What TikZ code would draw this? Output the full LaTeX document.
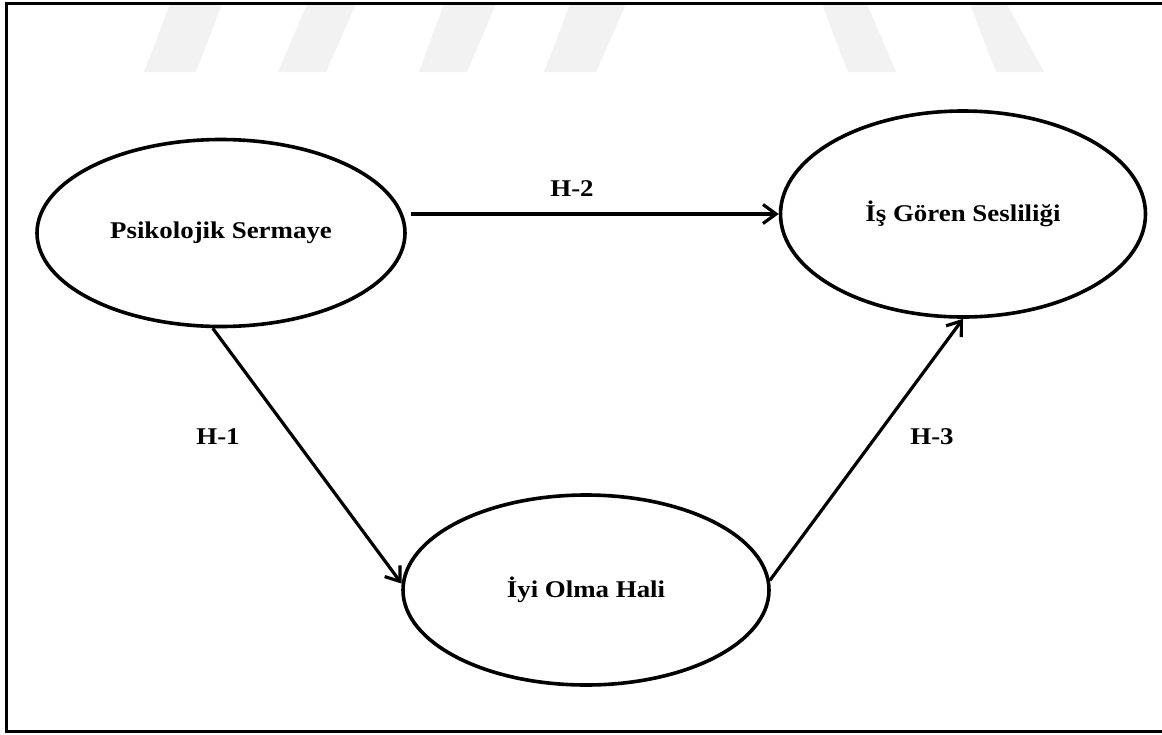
\documentclass[tikz,border=0pt]{standalone}
\usepackage{fontspec}
\usepackage{graphicx}
\setmainfont{Liberation Serif}
\usetikzlibrary{arrows.meta,calc,shapes.geometric}

% bold serif text, set a little wider than the font's natural width
\newcommand\widetext[1]{\scalebox{1.12}[1]{#1}}

\begin{document}
\begin{tikzpicture}[x=1pt,y=-1pt,
  construct/.style={ellipse, draw, line width=3.6pt, inner sep=0pt,
    font=\fontsize{24}{28}\selectfont\bfseries},
  hyp/.style={font=\fontsize{24}{28}\selectfont\bfseries},
  link/.style={line width=3.2pt,
    -{Straight Barb[length=13pt,width=19pt,line width=3.2pt]}},
  stripe/.style={draw=none, fill=black!5}
]
\useasboundingbox (0,0) rectangle (1162,734);

% faint stripes along the top edge
\fill[stripe] (170,4) -- (222,4) -- (196,72) -- (144,72) -- cycle;
\fill[stripe] (307,4) -- (356,4) -- (326,72) -- (278,72) -- cycle;
\fill[stripe] (444,4) -- (496,4) -- (467,72) -- (419,72) -- cycle;
\fill[stripe] (570,4) -- (626,4) -- (596,72) -- (544,72) -- cycle;
\fill[stripe] (822,4) -- (867,4) -- (896,72) -- (848,72) -- cycle;
\fill[stripe] (970,4) -- (1007,4) -- (1044,72) -- (996,72) -- cycle;

% frame, open towards the right
\draw[line width=3.4pt] (1175,3.4) -| (6.5,731.5) -- (1175,731.5);

% constructs
\node[construct, minimum width=368pt, minimum height=187pt] (ps) at (221,233)
  {\widetext{Psikolojik Sermaye}};
\node[construct, minimum width=365pt, minimum height=206pt] (isg) at (963,214)
  {\widetext{İş Gören Sesliliği}};
\node[construct, minimum width=366pt, minimum height=190pt] (iy) at (586,590)
  {\widetext{İyi Olma Hali}};

% hypothesised paths
\coordinate (h2start) at ($(ps.east |- isg.west)+(4,0)$);
\draw[link] (h2start) -- (isg.west);
\draw[link] (ps.265) -- (iy.178);
\draw[link] (iy.3) -- (isg.south);

% path labels
\node[hyp] (l2) at (572,189) {\widetext{H-2}};
\node[hyp] (l1) at (218,437) {\widetext{H-1}};
\node[hyp] (l3) at (932,437) {\widetext{H-3}};
\end{tikzpicture}
\end{document}
